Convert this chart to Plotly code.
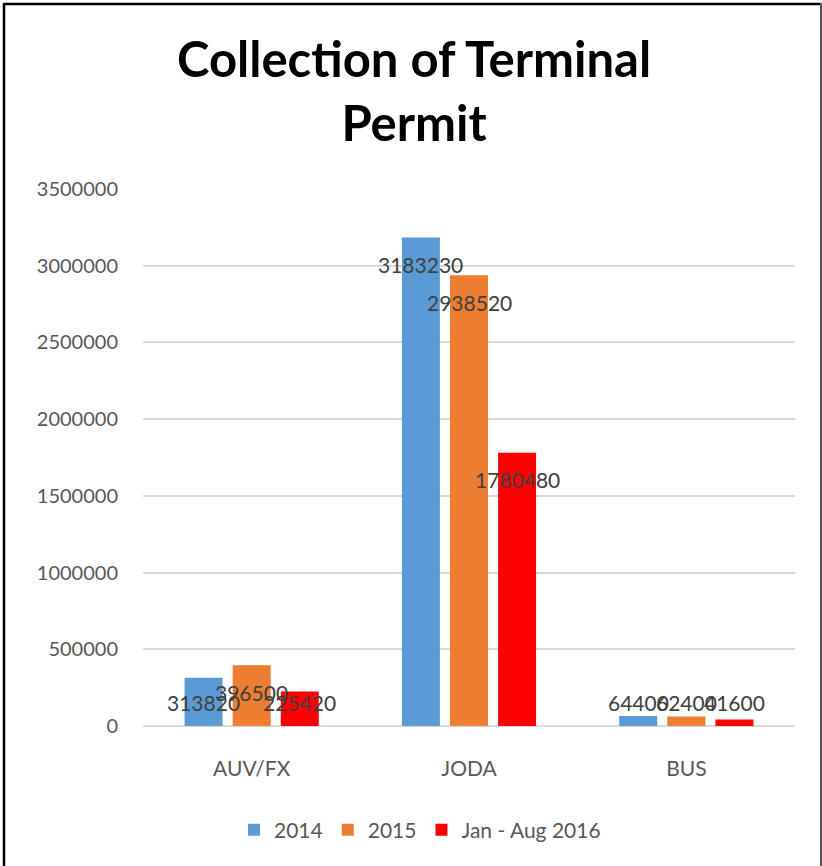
import plotly.graph_objects as go

categories = ["AUV/FX", "JODA", "BUS"]
series_names = ["2014", "2015", "Jan - Aug 2016"]
values_2014 = [313820, 3183230, 64400]
values_2015 = [396500, 2938520, 62400]
values_2016 = [225420, 1780480, 41600]
colors = ["#5B9BD5", "#ED7D31", "#FF0000"]
y_ticks = [0, 500000, 1000000, 1500000, 2000000, 2500000, 3000000, 3500000]

W, H = 822, 866
ML, MR, MT, MB = 143, 27, 189, 140
plot_h = H - MT - MB
pw = W - ML - MR
y_max = 3500000
units_per_px = y_max / plot_h
BARGAP = 0.336

FONT = "Lato, Open Sans, sans-serif"

fig = go.Figure()
all_series = [values_2014, values_2015, values_2016]
for name, vals, col in zip(series_names, all_series, colors):
    fig.add_trace(go.Bar(
        x=categories, y=vals, name=name, marker_color=col,
        marker_line_width=0, offsetgroup=name,
    ))

# value labels sit just inside the bar end, but never below a floor near the axis
n = len(series_names)
group_width = 1 - BARGAP
bar_w = group_width / n
for si, vals in enumerate(all_series):
    for ci, v in enumerate(vals):
        xoff = -group_width / 2 + bar_w * (si + 0.5)
        ly = max(v - 27 * units_per_px, 24 * units_per_px)
        fig.add_annotation(
            x=ci + xoff, y=ly, xref="x", yref="y", text=f"{v}",
            showarrow=False, yanchor="middle", xanchor="center",
            font=dict(family=FONT, size=21, color="#404040"),
        )

def px_x(p):
    return (p - ML) / pw

def px_y(p):
    return (H - MB - p) / plot_h

# chart title
fig.add_annotation(
    x=px_x(414), y=px_y(27), xref="paper", yref="paper",
    text="<b>Collection of Terminal<br>Permit</b>", showarrow=False,
    xanchor="center", yanchor="top", align="center",
    font=dict(family=FONT, size=49, color="#000000"),
)

# outer chart border
fig.add_shape(type="line", xref="paper", yref="paper",
              x0=px_x(4), x1=px_x(4), y0=px_y(3), y1=px_y(H + 5),
              line=dict(color="#000000", width=2.5))
fig.add_shape(type="line", xref="paper", yref="paper",
              x0=px_x(3), x1=px_x(821), y0=px_y(4), y1=px_y(4),
              line=dict(color="#000000", width=2.5))
fig.add_shape(type="line", xref="paper", yref="paper",
              x0=px_x(821), x1=px_x(821), y0=px_y(3), y1=px_y(H + 5),
              line=dict(color="#555555", width=2))

fig.update_layout(
    width=W, height=H,
    margin=dict(l=ML, r=MR, t=MT, b=MB),
    paper_bgcolor="white", plot_bgcolor="white",
    barmode="group", bargap=BARGAP, bargroupgap=0.21,
    font=dict(family=FONT, color="#595959"),
    xaxis=dict(
        tickfont=dict(size=21, color="#595959"), showline=False,
        ticks="", showgrid=False, ticklabelstandoff=28,
    ),
    yaxis=dict(
        range=[0, y_max], tickvals=y_ticks, ticktext=[str(t) for t in y_ticks],
        tickfont=dict(size=20, color="#595959"), showgrid=True,
        gridcolor="#D9D9D9", gridwidth=1.5, zeroline=True, zerolinecolor="#D9D9D9",
        zerolinewidth=1.5, showline=False, ticks="", ticklabelstandoff=24,
    ),
    legend=dict(
        orientation="h", x=px_x(420), xanchor="center", y=px_y(830),
        yanchor="middle", font=dict(size=21, color="#595959"),
        itemwidth=30, traceorder="normal",
    ),
    showlegend=True,
)

fig.write_html("out.html")
